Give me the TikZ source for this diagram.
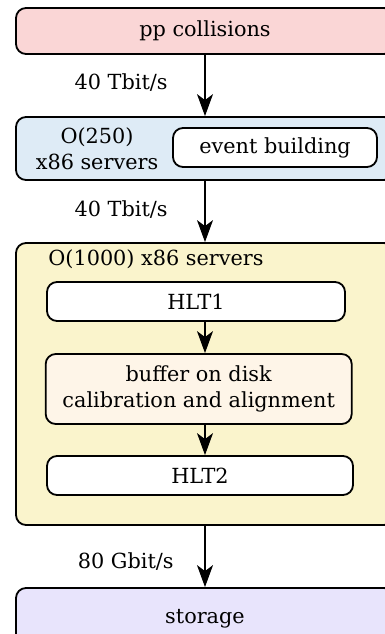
\documentclass[tikz,border=0pt]{standalone}
\usepackage{fontspec}
\setmainfont{DejaVu Serif}
\usepackage{tikz}
\usetikzlibrary{arrows.meta,positioning,calc}
\definecolor{collpink}{RGB}{250,214,214}
\definecolor{evbblue}{RGB}{222,235,246}
\definecolor{farmyellow}{RGB}{250,244,204}
\definecolor{diskcream}{RGB}{254,245,232}
\definecolor{storelilac}{RGB}{232,228,252}
\tikzset{%
    stage/.style={%
        rectangle, rounded corners=5pt, draw=black, line width=0.9pt, text centered, minimum width=189pt, inner sep=0pt
    },
    task/.style={%
        rectangle, rounded corners=5pt, draw=black, line width=0.9pt, fill=white, align=center, inner sep=0pt
    },
    txt/.style={%
        align=center
    },
    flow/.style={%
        -{Stealth[length=11pt, width=8pt, inset=3pt]}, line width=0.7pt
    },
}

\begin{document}
\begin{tikzpicture}[x=0.5pt, y=-0.5pt, font=\fontsize{10.4}{13}\selectfont]
      \clip (0,0) rectangle (385,634);
      \node[stage, fill=collpink, minimum height=23pt] (coll) at (205,31) {pp collisions};
      \node[stage, fill=evbblue, minimum height=31.5pt] (evbfarm) at (205,148.5) {};
      \node[txt] (evblabel) at (97,148.5) {O(250)\\x86 servers};
      \node[task, minimum width=102pt, minimum height=19.5pt] (evb) at (275,147.5) {event building};
      \node[stage, fill=farmyellow, minimum height=141pt] (hltfarm) at (205,384) {};
      \node[txt] (hltlabel) at (156,259) {O(1000) x86 servers};
      \node[task, minimum width=149pt, minimum height=19.5pt] (hlt1) at (196,301.5) {HLT1};
      \node[task, fill=diskcream, minimum width=153pt, minimum height=35pt] (buffer) at (198.7,389) {buffer on disk\\calibration and alignment};
      \node[task, minimum width=153pt, minimum height=19.5pt] (hlt2) at (200,475.5) {HLT2};
      \node[stage, fill=storelilac, minimum height=31pt] (storage) at (205,619) {storage};

      \draw [flow] (coll) -- (evbfarm) node[midway, left=15pt, yshift=1.5pt]{40 Tbit/s};
      \draw [flow] (evbfarm) -- (hltfarm) node[midway, left=15pt, yshift=1pt]{40 Tbit/s};
      \draw [flow] (hlt1.south -| coll.south) -- (buffer.north -| coll.south);
      \draw [flow] (buffer.south -| coll.south) -- (hlt2.north -| coll.south);
      \draw [flow] (hltfarm) -- (storage) node[midway, left=12pt, yshift=-2.5pt]{80 Gbit/s};
    \end{tikzpicture}
\end{document}
